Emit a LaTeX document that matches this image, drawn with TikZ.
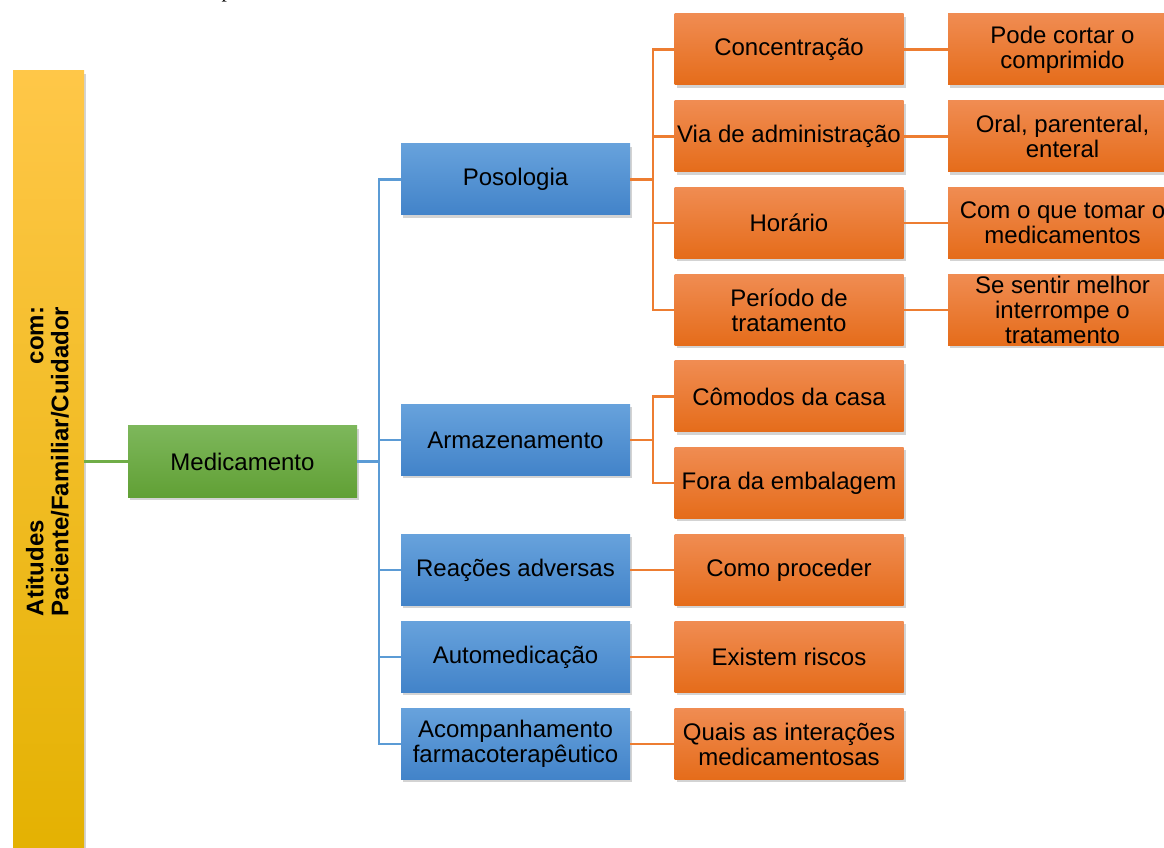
\documentclass[tikz,border=0pt]{standalone}
\usepackage{fontspec}
\setmainfont{Liberation Sans}
\newfontfamily\serifp{Liberation Serif}
\usetikzlibrary{shadows}
\definecolor{yTop}{HTML}{FFC748}
\definecolor{yMid}{HTML}{FFC000}
\definecolor{yBot}{HTML}{E3B100}
\definecolor{gTop}{HTML}{7DB75B}
\definecolor{gBot}{HTML}{61A035}
\definecolor{bTop}{HTML}{67A2DC}
\definecolor{bBot}{HTML}{4283C9}
\definecolor{oTop}{HTML}{F08C52}
\definecolor{oBot}{HTML}{E56C1A}
\definecolor{gLine}{HTML}{70AD47}
\definecolor{bLine}{HTML}{5B9BD5}
\definecolor{oLine}{HTML}{ED7D31}
\begin{document}
\begin{tikzpicture}[x=0.75pt,y=-0.75pt,
  shad/.style={drop shadow={opacity=0.35, shadow xshift=1.5pt, shadow yshift=-2.2pt}},
  box/.style={shad, draw=none, minimum width=171.75pt, minimum height=53.25pt,
    align=center, inner sep=1pt, text=black,
    font=\fontsize{18}{18.75}\selectfont},
  greenbox/.style={box, top color=gTop, bottom color=gBot},
  bluebox/.style={box, top color=bTop, bottom color=bBot},
  orangebox/.style={box, top color=oTop, bottom color=oBot},
  gl/.style={draw=gLine, line width=1.6pt},
  bl/.style={draw=bLine, line width=1.6pt},
  ol/.style={draw=oLine, line width=1.6pt}
]
\useasboundingbox (0,0) rectangle (1164,848);
\clip (0,0) rectangle (1164,848);

% partial glyph at top (cut off in the reference as well)
\node[anchor=base, inner sep=0pt, font=\serifp\fontsize{16}{16}\selectfont] (ptop) at (227,-2) {p};

% yellow bar
\node[shad, draw=none, minimum width=53.25pt, minimum height=600pt, inner sep=0pt,
  top color=yTop, middle color=yMid, bottom color=yBot] (bar) at (48.5,471) {};
\node[rotate=90, inner sep=0pt, font=\fontsize{18}{18.75}\selectfont\bfseries] (bartext) at (51,461.5)
  {\begin{tabular}{@{}c@{}}Atitudes\hfill com:\\Paciente/Familiar/Cuidador\end{tabular}};

% level 1
\node[greenbox] (med) at (242.5,461.5) {Medicamento};

% level 2
\node[bluebox] (poso) at (515.5,179.5) {Posologia};
\node[bluebox] (arma) at (515.5,440) {Armazenamento};
\node[bluebox] (reac) at (515.5,570) {Reações adversas};
\node[bluebox] (auto) at (515.5,657) {Automedicação};
\node[bluebox] (acom) at (515.5,744) {Acompanhamento\\farmacoterapêutico};

% level 3
\node[orangebox] (conc) at (789,49.5) {Concentração};
\node[orangebox] (via) at (789,136.5) {Via de administração};
\node[orangebox] (hora) at (789,223) {Horário};
\node[orangebox] (peri) at (789,310) {Período de\\tratamento};
\node[orangebox] (como) at (789,396.5) {Cômodos da casa};
\node[orangebox] (fora) at (789,483) {Fora da embalagem};
\node[orangebox] (proc) at (789,570) {Como proceder};
\node[orangebox] (risc) at (789,657) {Existem riscos};
\node[orangebox] (inte) at (789,744) {Quais as interações\\medicamentosas};

% level 4
\node[orangebox] (cort) at (1062.5,49.5) {Pode cortar o\\comprimido};
\node[orangebox] (oral) at (1062.5,136.5) {Oral, parenteral,\\enteral};
\node[orangebox] (tomar) at (1062.5,223) {Com o que tomar o\\medicamentos};
\node[orangebox] (sent) at (1062.5,310) {Se sentir melhor\\interrompe o\\tratamento};

% connectors
\draw[gl] (bar.east |- med.west) -- (med.west);

\foreach \t in {poso,arma,reac,auto,acom}
  \draw[bl] (med.east) -- ++(22,0) |- (\t.west);

\foreach \t in {conc,via,hora,peri}
  \draw[ol] (poso.east) -- ++(23,0) |- (\t.west);
\foreach \t in {como,fora}
  \draw[ol] (arma.east) -- ++(23,0) |- (\t.west);
\draw[ol] (reac.east) -- (proc.west);
\draw[ol] (auto.east) -- (risc.west);
\draw[ol] (acom.east) -- (inte.west);

\draw[ol] (conc.east) -- (cort.west);
\draw[ol] (via.east) -- (oral.west);
\draw[ol] (hora.east) -- (tomar.west);
\draw[ol] (peri.east) -- (sent.west);
\end{tikzpicture}
\end{document}
